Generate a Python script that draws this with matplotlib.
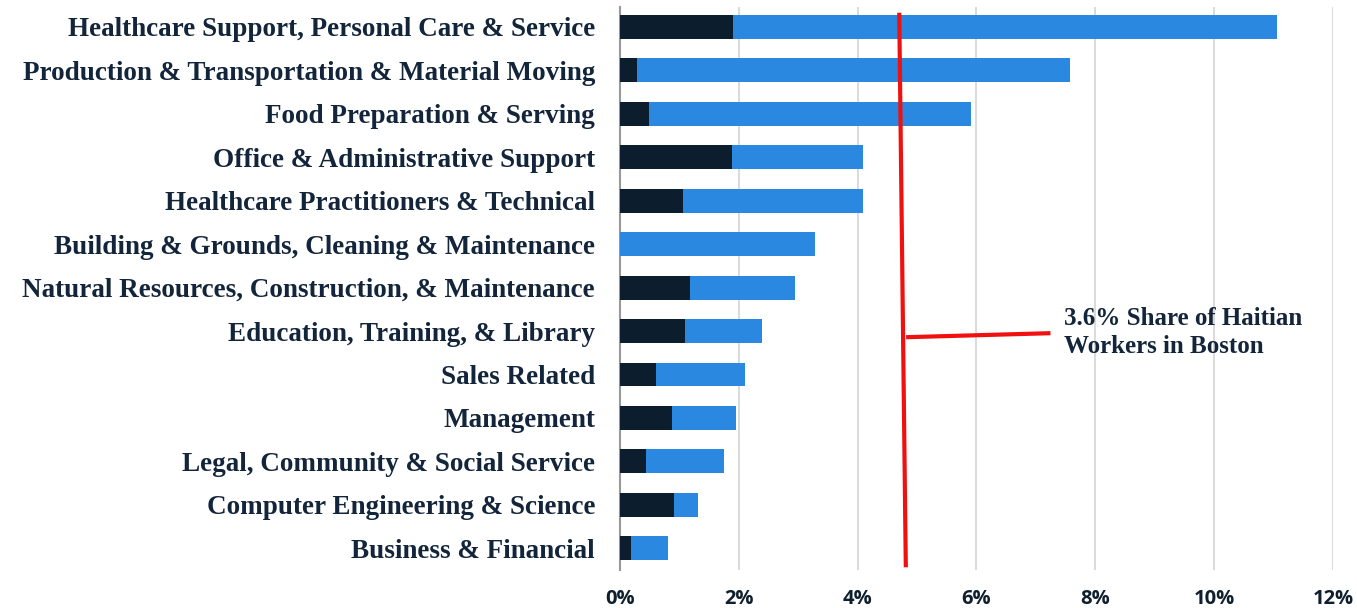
import numpy as np
import matplotlib.pyplot as plt

categories = [
    'Healthcare Support, Personal Care & Service',
    'Production & Transportation & Material Moving',
    'Food Preparation & Serving',
    'Office & Administrative Support',
    'Healthcare Practitioners & Technical',
    'Building & Grounds, Cleaning & Maintenance',
    'Natural Resources, Construction, & Maintenance',
    'Education, Training, & Library',
    'Sales Related',
    'Management',
    'Legal, Community & Social Service',
    'Computer Engineering & Science',
    'Business & Financial',
]
# dark segment (haitian share) and total bar length, in %
dark_vals = [1.90, 0.29, 0.49, 1.89, 1.06, 0.0, 1.18, 1.09, 0.61, 0.88, 0.44, 0.91, 0.19]
total_vals = [11.06, 7.58, 5.91, 4.09, 4.09, 3.28, 2.95, 2.39, 2.10, 1.95, 1.75, 1.31, 0.81]
xticks = [0, 2, 4, 6, 8, 10, 12]
note = '3.6% Share of Haitian\nWorkers in Boston'

navy = '#0c1e2e'
blue = '#2a88e0'
txt = '#13253a'

dark_vals = np.array(dark_vals)
total_vals = np.array(total_vals)
y = np.arange(len(categories))

fig = plt.figure(figsize=(13.57, 6.08), dpi=100)
ax = fig.add_axes([0.4569, 0.0625, 0.5254, 0.926])

ax.barh(y, dark_vals, height=0.55, color=navy, zorder=3)
ax.barh(y, total_vals - dark_vals, left=dark_vals, height=0.55, color=blue, zorder=3)

# reference line + callout
ax.plot([4.70, 4.81], [-0.28, 12.39], color='#f01010', lw=3, zorder=4)
ax.plot([4.85, 7.21], [7.14, 7.05], color='#f01010', lw=3, zorder=4)
ax.text(7.47, 7.03, note, ha='left', va='center', fontsize=18,
        family='Liberation Serif', weight='bold', color=txt, linespacing=1.25)

ax.set_xlim(0, 12)
ax.set_ylim(12.5, -0.46)
ax.set_xticks(xticks)
ax.set_xticklabels([f'{t}%' for t in xticks], family='Open Sans', weight='bold',
                   fontsize=14.5, color='#0f1f2e')
ax.set_yticks(y)
ax.set_yticklabels(categories, family='Liberation Serif', weight='bold',
                   fontsize=19.5, color=txt)
ax.tick_params(axis='y', length=0, pad=18)
ax.tick_params(axis='x', length=0, pad=14)
ax.grid(axis='x', color='#d4d4d4', lw=1.2, zorder=0)
for s in ['top', 'right', 'bottom']:
    ax.spines[s].set_visible(False)
ax.spines['left'].set_color('#999999')
ax.spines['left'].set_linewidth(1.5)

fig.savefig('out.png', dpi=100)
